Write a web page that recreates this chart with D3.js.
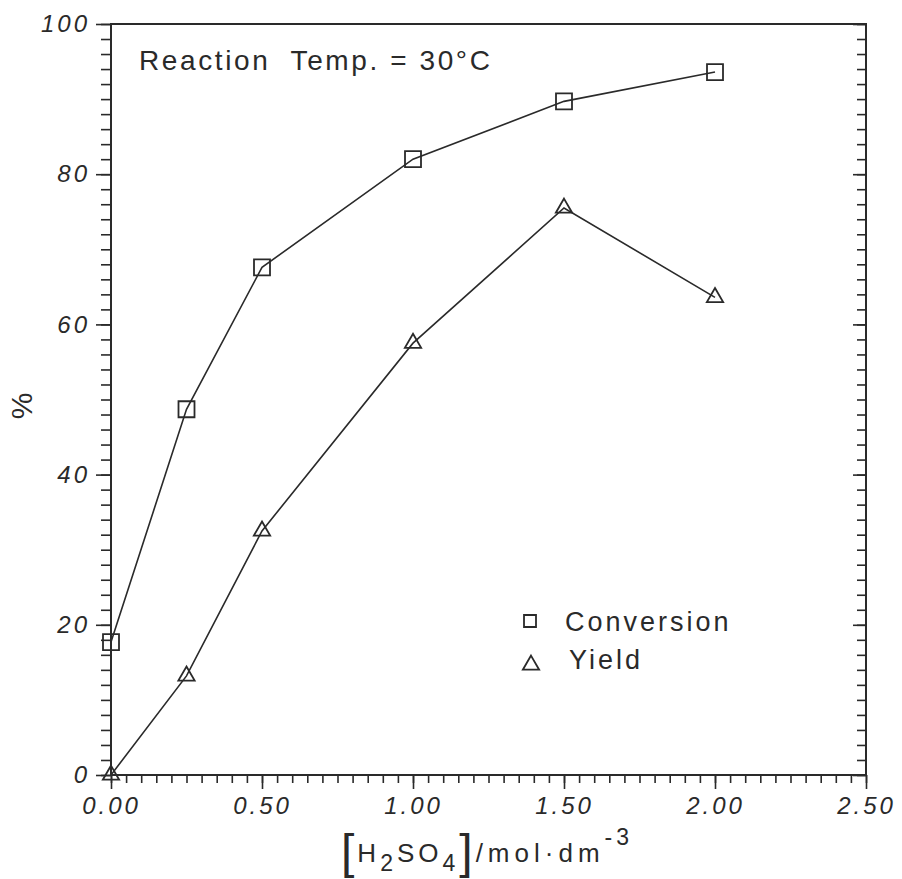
<!DOCTYPE html>
<html>
<head>
<meta charset="utf-8">
<script src="https://cdn.jsdelivr.net/npm/d3@7"></script>
<style>
  body { margin: 0; background: #fff; }
  svg { display: block; }
  .tick text { font-family: "Liberation Sans", sans-serif; font-style: italic; fill: #2a2a2a; }
</style>
</head>
<body>
<div id="chart"></div>
<script>

  // data
  var conc = [0, 0.25, 0.5, 1.0, 1.5, 2.0];
  var conversion = [17.7, 48.7, 67.6, 82.0, 89.7, 93.6];
  var yieldPct = [0, 13.2, 32.5, 57.5, 75.5, 63.6];
  var xTicks = [0, 0.5, 1.0, 1.5, 2.0, 2.5];
  var yTicks = [0, 20, 40, 60, 80, 100];

  var width = 902, height = 879;
  var mLeft = 111, mRight = 866, mTop = 24, mBottom = 775;
  var ink = "#2a2a2a";

  var svg = d3.select("#chart").append("svg")
    .attr("width", width)
    .attr("height", height);

  var x = d3.scaleLinear().domain([0, 2.5]).range([mLeft, mRight]);
  var y = d3.scaleLinear().domain([0, 100]).range([mBottom, mTop]);

  //=========================================================================
  // axes
  //=========================================================================
  function styleAxis(g) {
    g.select(".domain").remove();
    g.selectAll(".tick line").attr("stroke", ink).attr("stroke-width", 1.6);
  }

  // left: outward ticks, minor every 2
  svg.append("g").attr("transform", `translate(${mLeft},0)`)
    .call(d3.axisLeft(y).tickValues(d3.range(0, 101, 2)).tickSize(10).tickFormat(""))
    .call(styleAxis);
  svg.append("g").attr("transform", `translate(${mLeft},0)`)
    .call(d3.axisLeft(y).tickValues(yTicks).tickSize(15).tickPadding(6).tickFormat(d3.format("d")))
    .call(styleAxis)
    .selectAll("text").attr("font-size", 24).attr("letter-spacing", 3);

  // right: inward ticks
  svg.append("g").attr("transform", `translate(${mRight},0)`)
    .call(d3.axisLeft(y).tickValues(d3.range(0, 101, 2)).tickSize(9).tickFormat(""))
    .call(styleAxis);
  svg.append("g").attr("transform", `translate(${mRight},0)`)
    .call(d3.axisLeft(y).tickValues(yTicks).tickSize(13).tickFormat(""))
    .call(styleAxis);

  // bottom: outward ticks, minor every 0.05
  svg.append("g").attr("transform", `translate(0,${mBottom})`)
    .call(d3.axisBottom(x).tickValues(d3.range(0, 51).map(function(i){ return i * 0.05; })).tickSize(8).tickFormat(""))
    .call(styleAxis);
  svg.append("g").attr("transform", `translate(0,${mBottom})`)
    .call(d3.axisBottom(x).tickValues(xTicks).tickSize(14).tickPadding(8).tickFormat(d3.format(".2f")))
    .call(styleAxis)
    .selectAll("text").attr("font-size", 24).attr("letter-spacing", 3);

  // frame
  svg.append("rect")
    .attr("x", mLeft).attr("y", mTop)
    .attr("width", mRight - mLeft).attr("height", mBottom - mTop)
    .attr("fill", "none").attr("stroke", ink).attr("stroke-width", 2);

  //=========================================================================
  // series
  //=========================================================================
  var line = d3.line()
    .x(function(d){ return x(d[0]); })
    .y(function(d){ return y(d[1]); });

  var convData = d3.zip(conc, conversion);
  var yieldData = d3.zip(conc, yieldPct);

  svg.append("path").datum(convData).attr("d", line)
    .attr("fill", "none").attr("stroke", ink).attr("stroke-width", 1.6);
  svg.append("path").datum(yieldData).attr("d", line)
    .attr("fill", "none").attr("stroke", ink).attr("stroke-width", 1.6);

  var square = d3.symbol().type(d3.symbolSquare).size(256);
  var triangle = d3.symbol().type(d3.symbolTriangle).size(115);

  svg.append("g").selectAll("path").data(convData).enter()
    .append("path")
    .attr("d", square)
    .attr("transform", function(d){ return `translate(${x(d[0])},${y(d[1])})`; })
    .attr("fill", "none").attr("stroke", ink).attr("stroke-width", 1.8);

  svg.append("g").selectAll("path").data(yieldData).enter()
    .append("path")
    .attr("d", triangle)
    .attr("transform", function(d){ return `translate(${x(d[0])},${y(d[1])})`; })
    .attr("fill", "none").attr("stroke", ink).attr("stroke-width", 1.8);

  //=========================================================================
  // texts
  //=========================================================================
  var font = "Liberation Sans, sans-serif";

  svg.append("text")
    .attr("x", 139).attr("y", 70)
    .attr("font-family", font).attr("font-size", 28).attr("letter-spacing", 2.6)
    .attr("fill", ink)
    .attr("xml:space", "preserve")
    .text("Reaction  Temp. = 30\u00B0C");

  // legend
  svg.append("path").attr("d", d3.symbol().type(d3.symbolSquare).size(144))
    .attr("transform", "translate(530,621)")
    .attr("fill", "none").attr("stroke", ink).attr("stroke-width", 1.8);
  svg.append("path").attr("d", triangle)
    .attr("transform", "translate(531,665)")
    .attr("fill", "none").attr("stroke", ink).attr("stroke-width", 1.8);
  svg.append("text").attr("x", 565).attr("y", 631)
    .attr("font-family", font).attr("font-size", 27).attr("letter-spacing", 3)
    .attr("fill", ink).text("Conversion");
  svg.append("text").attr("x", 569).attr("y", 669)
    .attr("font-family", font).attr("font-size", 27).attr("letter-spacing", 3)
    .attr("fill", ink).text("Yield");

  // y label
  svg.append("text")
    .attr("transform", "translate(32,406) rotate(-90)")
    .attr("text-anchor", "middle")
    .attr("font-family", font).attr("font-size", 30)
    .attr("fill", ink).text("%");

  // x label
  var xl = svg.append("text")
    .attr("x", 341).attr("y", 862)
    .attr("font-family", font).attr("font-size", 26).attr("letter-spacing", 4)
    .attr("fill", ink);
  xl.append("tspan").attr("font-size", 48).attr("letter-spacing", 3).attr("dy", 6).text("[");
  xl.append("tspan").attr("dy", -6).text("H");
  xl.append("tspan").attr("font-size", 23).attr("dy", 9).text("2");
  xl.append("tspan").attr("dy", -9).text("SO");
  xl.append("tspan").attr("font-size", 23).attr("dy", 9).text("4");
  xl.append("tspan").attr("font-size", 48).attr("letter-spacing", 3).attr("dy", -3).text("]");
  xl.append("tspan").attr("dy", -6).attr("letter-spacing", 5).text("/mol\u00B7dm");
  xl.append("tspan").attr("font-size", 23).attr("dy", -17).text("-3");

</script>
</body>
</html>
